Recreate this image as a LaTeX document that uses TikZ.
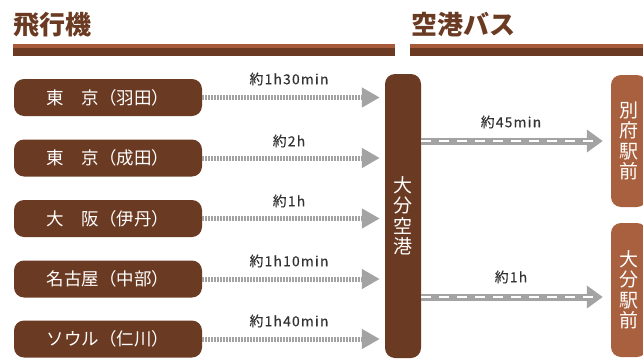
\documentclass[tikz,border=0pt]{standalone}
\usepackage{fontspec}
\setmainfont{Noto Sans CJK JP}
\newfontfamily\lblfont{Noto Sans CJK JP}[LetterSpace=9,FakeBold=0.4]
\usetikzlibrary{arrows.meta}
\definecolor{dbrown}{HTML}{6B3A22}
\definecolor{lbrown}{HTML}{A8603E}
\definecolor{stripe}{HTML}{A65A3A}
\definecolor{agray}{HTML}{A3A3A3}
\definecolor{ltext}{HTML}{333333}
\begin{document}
\begin{tikzpicture}[x=1pt,y=-1pt,
  title/.style={anchor=west, inner sep=0pt, text=dbrown, font=\bfseries\fontsize{26}{28}\selectfont},
  city/.style={fill=dbrown, rounded corners=10pt, minimum width=188pt, minimum height=37pt, text=white, inner sep=0pt, font=\fontsize{17.5}{18}\selectfont},
  vbox/.style={rounded corners=10pt, minimum width=36pt, text=white, inner sep=0pt, align=center, font=\fontsize{19}{20.5}\selectfont},
  lbl/.style={text=ltext, inner sep=0pt, font=\lblfont\fontsize{13.8}{14}\selectfont},
  flight/.style={agray, line width=5pt, dash pattern=on 2pt off 1pt, shorten >=5pt, -{Triangle[length=18pt,width=19pt]}},
  bus/.style={agray, line width=7pt, shorten >=8pt, -{Triangle[length=16pt,width=22pt]},
    postaction={draw=white, line width=1.6pt, dash pattern=on 10pt off 8pt, -, shorten >=14pt}}
]
\useasboundingbox (0,0) rectangle (643,359);

% headers
\node[title] (t1) at (13,25) {飛行機};
\node[title] (t2) at (411,25) {空港バス};
\fill[stripe] (13,44) rectangle (395,47.5);
\fill[dbrown] (13,47.5) rectangle (395,55.5);
\fill[stripe] (410,44) rectangle (643,47.5);
\fill[dbrown] (410,47.5) rectangle (643,55.5);

% origin cities
\node[city] (hnd) at (108,97.5) {東　京（羽田）};
\node[city] (nrt) at (108,158) {東　京（成田）};
\node[city] (itm) at (108,218.5) {大　阪（伊丹）};
\node[city] (ngo) at (108,279) {名古屋（中部）};
\node[city] (icn) at (108,339) {ソウル（仁川）};

% airport
\node[vbox, fill=dbrown, minimum height=284pt] (oit) at (403,216) {大\\分\\空\\港};

% destinations
\node[vbox, fill=lbrown, minimum height=132pt] (beppu) at (629,141) {別\\府\\駅\\前};
\node[vbox, fill=lbrown, minimum height=134pt] (oita) at (629,290) {大\\分\\駅\\前};

% flights
\draw[flight] (hnd.east) -- (oit.west |- hnd.east);
\draw[flight] (nrt.east) -- (oit.west |- nrt.east);
\draw[flight] (itm.east) -- (oit.west |- itm.east);
\draw[flight] (ngo.east) -- (oit.west |- ngo.east);
\draw[flight] (icn.east) -- (oit.west |- icn.east);
\node[lbl] (l1) at (289,79) {約1h30min};
\node[lbl] (l2) at (289,141) {約2h};
\node[lbl] (l3) at (289,201) {約1h};
\node[lbl] (l4) at (289,261) {約1h10min};
\node[lbl] (l5) at (289,321) {約1h40min};

% buses
\draw[bus] (oit.east |- beppu.west) -- (beppu.west);
\draw[bus] (oit.east |- 0,297) -- (oita.west |- 0,297);
\node[lbl] (l6) at (511,122) {約45min};
\node[lbl] (l7) at (511,277) {約1h};
\end{tikzpicture}
\end{document}
